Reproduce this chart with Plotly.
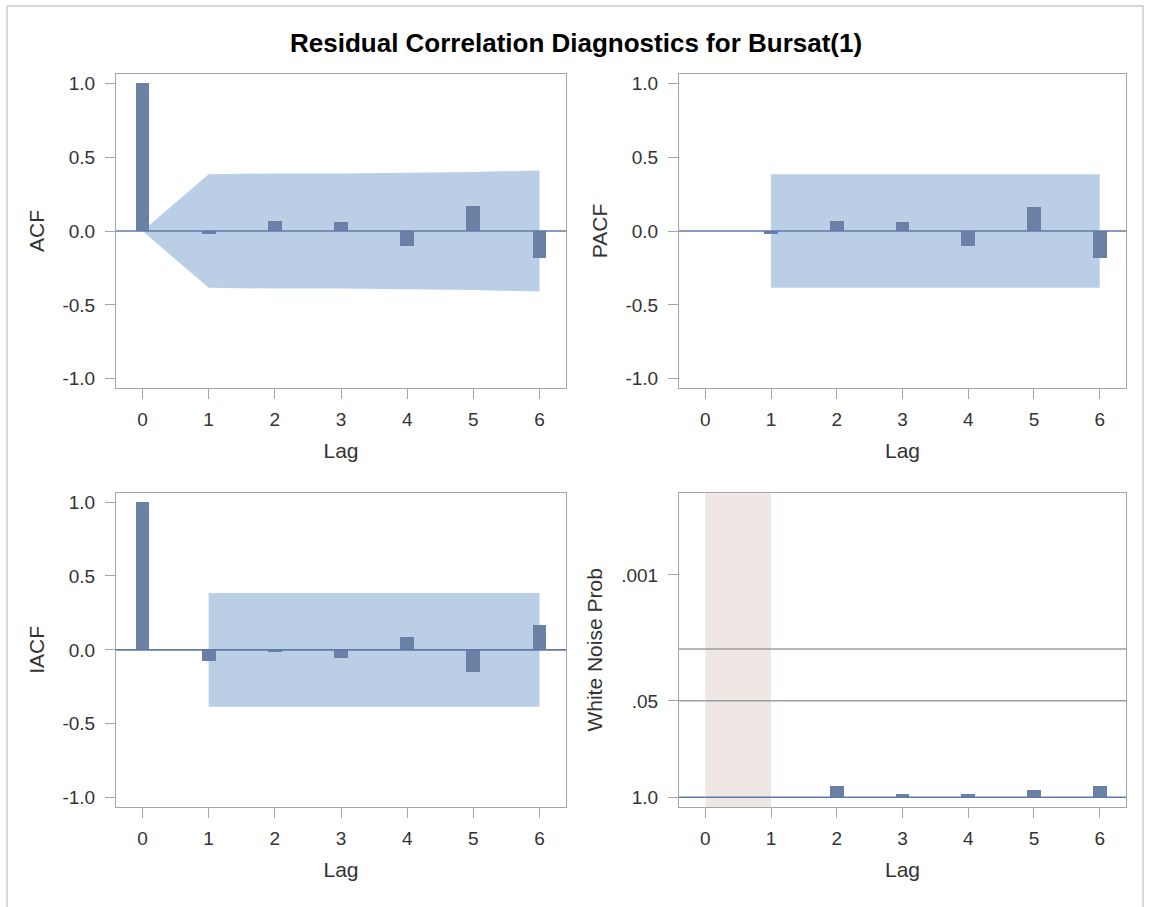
import math
import plotly.graph_objects as go

# ---------------- data ----------------
lags = [0, 1, 2, 3, 4, 5, 6]
acf = [1.0, -0.02, 0.07, 0.06, -0.10, 0.17, -0.18]
acf_band = [0.0, 0.385, 0.39, 0.39, 0.395, 0.40, 0.41]

pacf_lags = [1, 2, 3, 4, 5, 6]
pacf = [-0.02, 0.07, 0.06, -0.10, 0.16, -0.18]
pacf_band = 0.385

iacf = [1.0, -0.07, -0.01, -0.05, 0.09, -0.15, 0.17]
iacf_band = 0.385

wn_lags = [2, 3, 4, 5, 6]
wn_p = [0.70, 0.90, 0.90, 0.80, 0.70]
wn_tick_p = [1.0, 0.05, 0.001]
wn_tick_text = ["1.0", ".05", ".001"]
wn_ref_p = [0.05, 0.01]
wn_shade = [0, 1]

corr_ticks = [-1.0, -0.5, 0.0, 0.5, 1.0]
corr_tick_text = ["-1.0", "-0.5", "0.0", "0.5", "1.0"]

title = "Residual Correlation Diagnostics for Bursat(1)"

# ---------------- styles ----------------
W, H = 1150, 907
FONT = "Arial, Liberation Sans, Helvetica, sans-serif"
BAR = "#6A80A4"
BAND = "#BACFE6"
ZERO = "#5E7AA8"
FRAME = "#A3A7AC"
REF = "#9A9EA3"
SHADE = "#EFE7E4"
TXT = "#333333"


def nlog(p):
    return -math.log10(p)


fig = go.Figure()

# bars
fig.add_trace(go.Bar(x=lags, y=acf, width=0.21, marker=dict(color=BAR, line=dict(width=0)),
                     xaxis="x", yaxis="y", showlegend=False))
fig.add_trace(go.Bar(x=pacf_lags, y=pacf, width=0.21, marker=dict(color=BAR, line=dict(width=0)),
                     xaxis="x2", yaxis="y2", showlegend=False))
fig.add_trace(go.Bar(x=lags, y=iacf, width=0.21, marker=dict(color=BAR, line=dict(width=0)),
                     xaxis="x3", yaxis="y3", showlegend=False))
fig.add_trace(go.Bar(x=wn_lags, y=[nlog(p) for p in wn_p], width=0.21,
                     marker=dict(color=BAR, line=dict(width=0)),
                     xaxis="x4", yaxis="y4", showlegend=False))

shapes = []


def band_path(xs, up, lo):
    pts = [(x, u) for x, u in zip(xs, up)] + [(x, l) for x, l in zip(xs[::-1], lo[::-1])]
    return "M " + " L ".join(f"{x},{y}" for x, y in pts) + " Z"


# ACF band (below bars)
shapes.append(dict(type="path", xref="x", yref="y", layer="below",
                   path=band_path(lags, acf_band, [-b for b in acf_band]),
                   fillcolor=BAND, line=dict(width=0)))
# PACF band
shapes.append(dict(type="rect", xref="x2", yref="y2", layer="below",
                   x0=pacf_lags[0], x1=pacf_lags[-1], y0=-pacf_band, y1=pacf_band,
                   fillcolor=BAND, line=dict(width=0)))
# IACF band
shapes.append(dict(type="rect", xref="x3", yref="y3", layer="below",
                   x0=lags[1], x1=lags[-1], y0=-iacf_band, y1=iacf_band,
                   fillcolor=BAND, line=dict(width=0)))
# WN shading
shapes.append(dict(type="rect", xref="x4", yref="y4 domain", layer="below",
                   x0=wn_shade[0], x1=wn_shade[1], y0=0, y1=1,
                   fillcolor=SHADE, line=dict(width=0)))
# WN reference lines
for p in wn_ref_p:
    shapes.append(dict(type="line", xref="x4 domain", yref="y4", x0=0, x1=1,
                       y0=nlog(p), y1=nlog(p), line=dict(color=REF, width=1.5)))
# zero lines
for ax in ["", "2", "3", "4"]:
    shapes.append(dict(type="line", xref=f"x{ax} domain", yref=f"y{ax}", x0=0, x1=1,
                       y0=0, y1=0, line=dict(color=ZERO, width=1.6)))

# outer border
shapes.append(dict(type="rect", xref="paper", yref="paper",
                   x0=7 / W, x1=1143 / W, y0=-0.02, y1=1 - 6 / H,
                   line=dict(color="#D9D9D9", width=2), fillcolor="rgba(0,0,0,0)", layer="below"))

# domains (pixel based)
xl = [116 / W, 566 / W]
xr = [679 / W, 1126 / W]
yt = [1 - 388 / H, 1 - 74 / H]
yb = [1 - 807 / H, 1 - 492.7 / H]

common_x = dict(range=[-0.4, 6.4], tickvals=lags, ticks="outside", ticklen=10, tickcolor=FRAME,
                tickwidth=1, showline=True, linecolor=FRAME, linewidth=1, mirror=True,
                showgrid=False, zeroline=False, ticklabelstandoff=4,
                tickfont=dict(family=FONT, size=19, color=TXT),
                title=dict(text="Lag", font=dict(family=FONT, size=21, color=TXT), standoff=14),
                automargin=False, fixedrange=True)
common_y = dict(ticks="outside", ticklen=10, tickcolor=FRAME, tickwidth=1,
                showline=True, linecolor=FRAME, linewidth=1, mirror=True,
                showgrid=False, zeroline=False, ticklabelstandoff=6,
                tickfont=dict(family=FONT, size=19, color=TXT),
                automargin=False, fixedrange=True)


def yax(label, anchor, domain, **kw):
    d = dict(common_y)
    d.update(domain=domain, anchor=anchor,
             title=dict(text=label, font=dict(family=FONT, size=21, color=TXT), standoff=12))
    d.update(kw)
    return d


def xax(anchor, domain):
    d = dict(common_x)
    d.update(domain=domain, anchor=anchor)
    return d


corr_range = [-1.063, 1.063]
fig.update_layout(
    width=W, height=H,
    margin=dict(l=0, r=0, t=0, b=0),
    paper_bgcolor="white", plot_bgcolor="white",
    showlegend=False,
    bargap=0,
    xaxis=xax("y", xl),
    yaxis=yax("ACF", "x", yt, range=corr_range, tickvals=corr_ticks, ticktext=corr_tick_text),
    xaxis2=xax("y2", xr),
    yaxis2=yax("PACF", "x2", yt, range=corr_range, tickvals=corr_ticks, ticktext=corr_tick_text),
    xaxis3=xax("y3", xl),
    yaxis3=yax("IACF", "x3", yb, range=corr_range, tickvals=corr_ticks, ticktext=corr_tick_text),
    xaxis4=xax("y4", xr),
    yaxis4=yax("White Noise Prob", "x4", yb, range=[-0.131, 4.11],
               tickvals=[nlog(p) for p in wn_tick_p], ticktext=wn_tick_text),
    shapes=shapes,
    annotations=[dict(text=f"<b>{title}</b>", xref="paper", yref="paper",
                      x=576 / W, y=1 - 43 / H, xanchor="center", yanchor="middle",
                      showarrow=False, font=dict(family=FONT, size=26, color="#000000"))],
)

fig.write_html("out.html", config={"displayModeBar": False})
